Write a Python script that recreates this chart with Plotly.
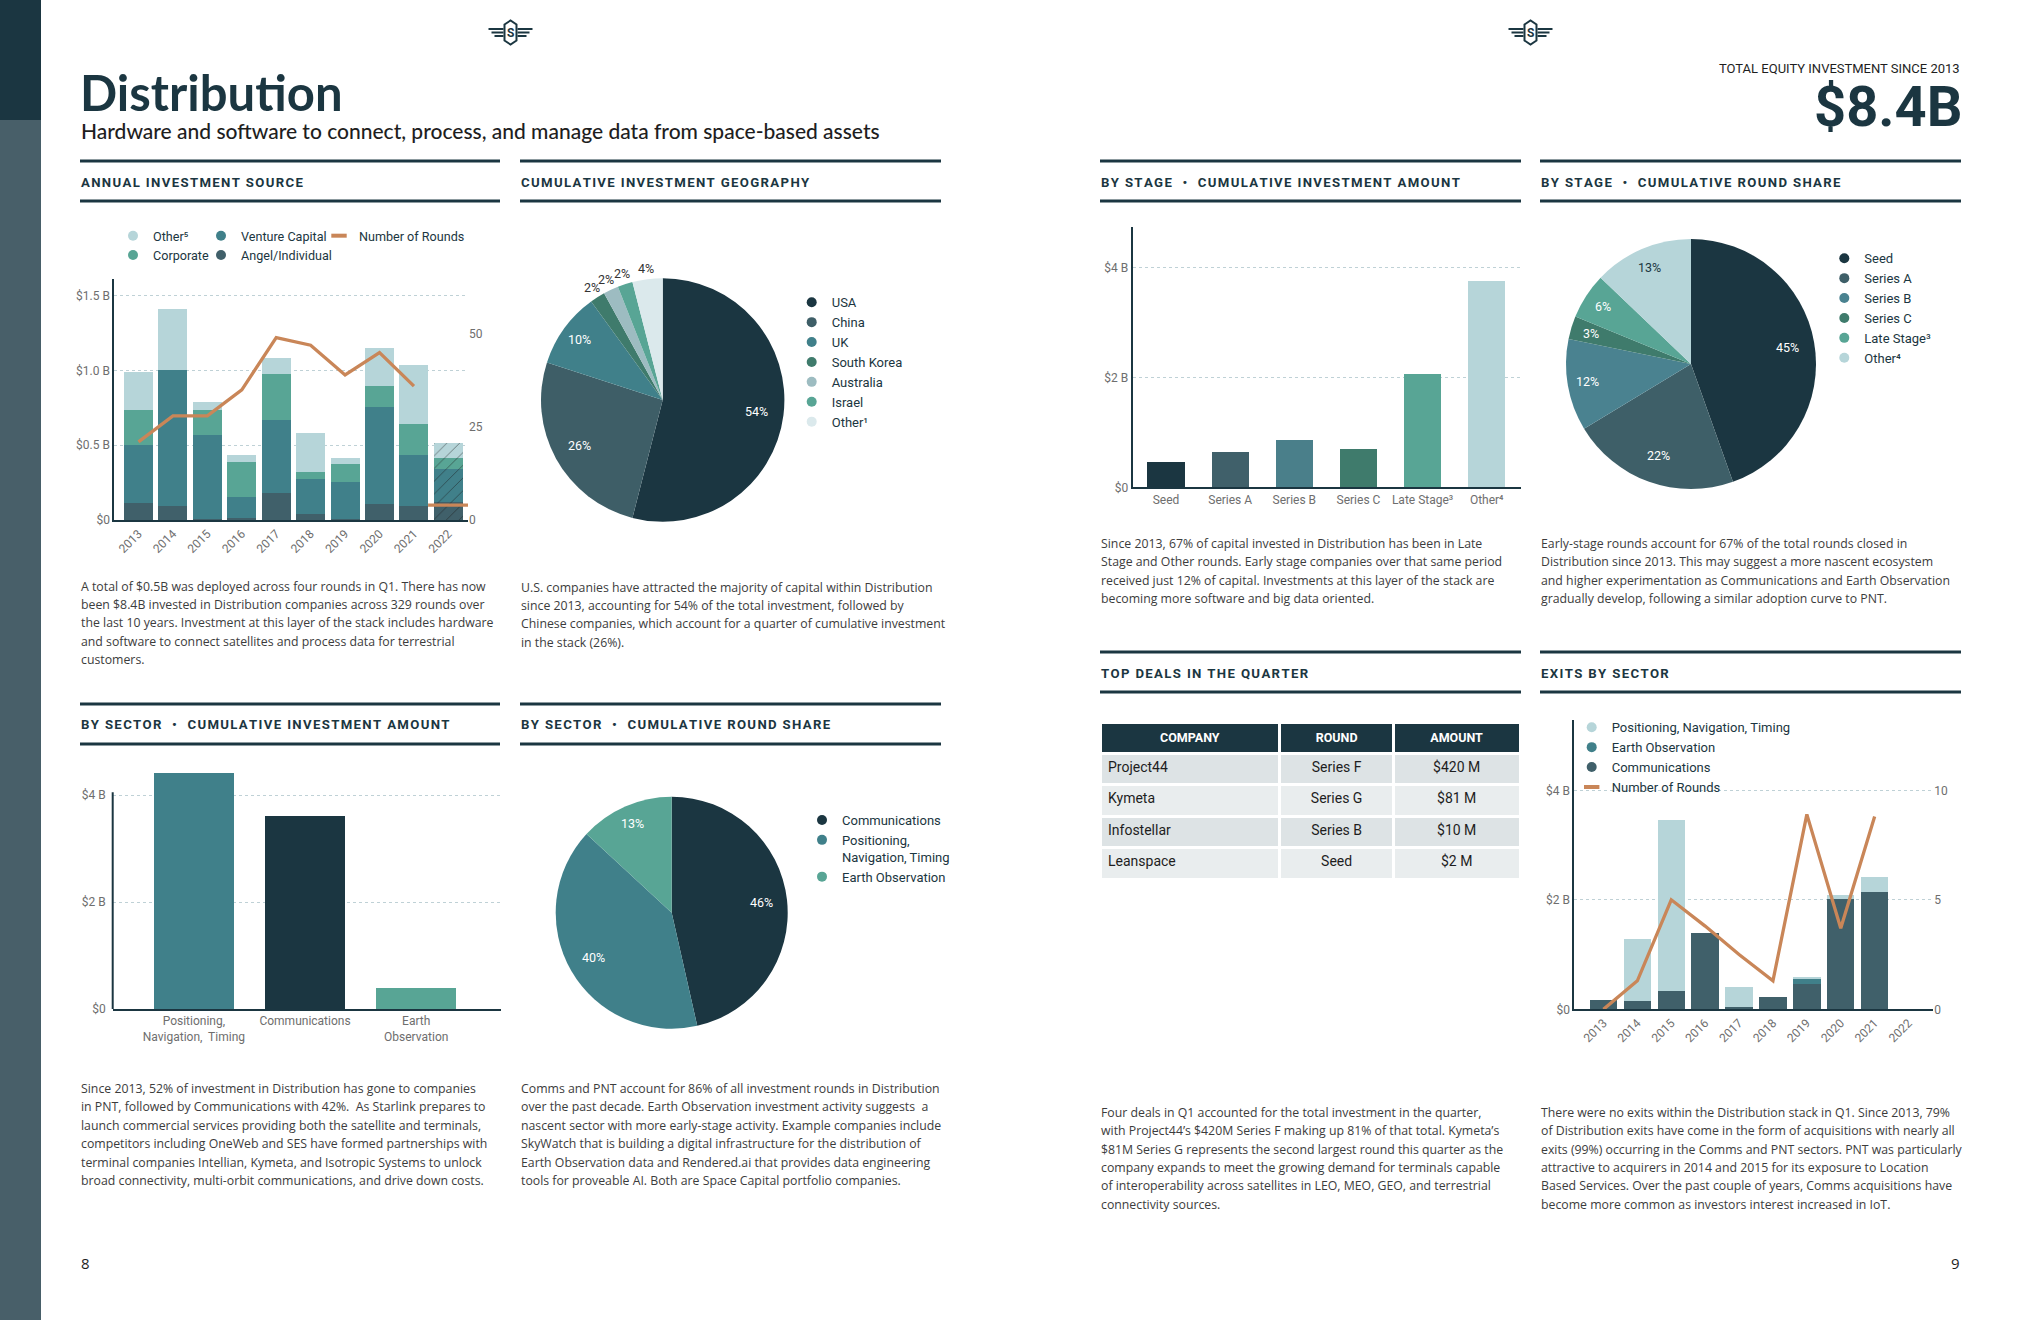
import math
import plotly.graph_objects as go

W, H = 2040, 1320
def fx(x): return x / W
def fy(y): return 1 - y / H

NAVY = "#1b3641"
SLATE = "#40606a"
TEAL = "#40808a"
GREEN = "#58a595"
LIGHT = "#b6d5d9"
ORANGE = "#c98658"
GRID = "#bfd1d6"
TICK = "#6e6e6e"
BODY_C = "#3c3c3c"
CHART_FONT = "Roboto, 'Liberation Sans', sans-serif"
BODY_FONT = "'Open Sans', 'DejaVu Sans', sans-serif"
TITLE_FONT = "Lato, Roboto, sans-serif"

# ---------------- data ----------------
years = ["2013", "2014", "2015", "2016", "2017", "2018", "2019", "2020", "2021", "2022"]
partial_year = "2022"
src_angel = [0.116, 0.094, 0.004, 0.016, 0.181, 0.042, 0.004, 0.107, 0.094, 0.123]
src_venture = [0.385, 0.909, 0.564, 0.140, 0.488, 0.234, 0.250, 0.649, 0.341, 0.220]
src_corporate = [0.234, 0.0, 0.167, 0.232, 0.307, 0.045, 0.120, 0.140, 0.207, 0.072]
src_other = [0.255, 0.408, 0.054, 0.047, 0.107, 0.261, 0.041, 0.254, 0.394, 0.100]
src_rounds = [21, 28, 28, 35, 49, 47, 39, 45, 36, 4]

countries = ["USA", "China", "UK", "South Korea", "Australia", "Israel", "Other¹"]
geo_share = [54, 26, 10, 2, 2, 2, 4]

sectors = ["Positioning,<br>Navigation,  Timing", "Communications", "Earth<br>Observation"]
sector_amount = [4.42, 3.61, 0.39]

sector_pie_labels = ["Communications", "Positioning,<br>Navigation, Timing", "Earth Observation"]
sector_round_share = [46, 40, 13]

stages = ["Seed", "Series A", "Series B", "Series C", "Late Stage³", "Other⁴"]
stage_amount = [0.455, 0.642, 0.86, 0.696, 2.06, 3.75]
stage_round_share = [45, 22, 12, 3, 6, 13]

deal_company = ["Project44", "Kymeta", "Infostellar", "Leanspace"]
deal_round = ["Series F", "Series G", "Series B", "Seed"]
deal_amount = ["$420 M", "$81 M", "$10 M", "$2 M"]

exit_comms = [0.17, 0.152, 0.335, 1.393, 0.043, 0.225, 0.462, 2.013, 2.141, 0]
exit_eo = [0, 0, 0, 0, 0, 0, 0.09, 0, 0, 0]
exit_pnt = [0, 1.13, 3.12, 0, 0.365, 0, 0.037, 0.067, 0.274, 0]
exit_rounds = [0, 1.3, 5.0, 3.8, 2.5, 1.3, 8.9, 3.7, 8.8]

# ---------------- figure ----------------
fig = go.Figure()
tickfont = dict(size=12, color=TICK, family=CHART_FONT)
shapes = []
annotations = []

def text(x, y, s, size, color=NAVY, family=CHART_FONT, xanchor="left", yanchor="middle", weight="normal"):
    annotations.append(dict(x=fx(x), y=fy(y), xref="paper", yref="paper", text=s, showarrow=False,
                            xanchor=xanchor, yanchor=yanchor, borderpad=0,
                            font=dict(size=size, color=color, family=family, weight=weight)))

# Chart 1: annual investment source
hatch = ["/" if y == partial_year else "" for y in years]
for name, vals, col in [("Angel/Individual", src_angel, SLATE), ("Venture Capital", src_venture, TEAL),
                        ("Corporate", src_corporate, GREEN), ("Other⁵", src_other, LIGHT)]:
    fig.add_trace(go.Bar(x=years, y=vals, name=name, width=0.84, xaxis="x", yaxis="y", showlegend=False,
                         marker=dict(color=col, line=dict(width=0),
                                     pattern=dict(shape=hatch, fgcolor="#1a1a1a", size=9, solidity=0.1)),
                         hoverinfo="skip"))
fig.add_trace(go.Scatter(x=years[:-1], y=src_rounds[:-1], mode="lines", xaxis="x", yaxis="y2",
                         line=dict(color=ORANGE, width=3.3), showlegend=False, hoverinfo="skip"))
fig.add_trace(go.Scatter(x=years[-1:], y=src_rounds[-1:], mode="markers", xaxis="x", yaxis="y2",
                         marker=dict(symbol="line-ew", size=29, line=dict(color=ORANGE, width=3.3)),
                         showlegend=False, hoverinfo="skip"))

# pies (geometry in page pixels) and their labels placed from the slice shares
def pie(labels, values, colors, cx, cy, r, label_colors, outside=None):
    fig.add_trace(go.Pie(labels=labels, values=values, sort=False, direction="clockwise", rotation=0,
                         domain=dict(x=[fx(cx - r), fx(cx + r)], y=[fy(cy + r), fy(cy - r)]),
                         marker=dict(colors=colors, line=dict(width=0)), textinfo="none",
                         showlegend=False, hoverinfo="skip"))
    total = sum(values)
    cum = 0
    for i, v in enumerate(values):
        share = v / total
        mid = 2 * math.pi * (cum + v / 2) / total
        cum += v
        out = outside[i] if outside else False
        f = 1.09 if out else (0.78 if share >= 0.2 else 0.84)
        text(cx + f * r * math.sin(mid), cy - f * r * math.cos(mid), f"{round(100 * share)}%", 12.5,
             "#333333" if out else label_colors[i], CHART_FONT, xanchor="center")

geo_colors = [NAVY, "#3e5e67", TEAL, "#3f7b6c", "#9dbcc1", GREEN, "#dbe9ec"]
pie(countries, geo_share, geo_colors, 662.7, 400, 121.7, ["white"] * 7,
    outside=[s < 5 for s in geo_share])

# Chart 3: by sector bar
fig.add_trace(go.Bar(x=sectors, y=sector_amount, width=0.72, xaxis="x3", yaxis="y3",
                     marker=dict(color=[TEAL, NAVY, GREEN], line=dict(width=0)),
                     showlegend=False, hoverinfo="skip"))

# Chart 4: sector round share pie
pie(sector_pie_labels, sector_round_share, [NAVY, TEAL, GREEN], 671.7, 912.7, 116, ["white"] * 3)

# Chart 5: by stage bar
stage_colors = [NAVY, SLATE, "#4a7f8a", "#3f7b6c", GREEN, LIGHT]
fig.add_trace(go.Bar(x=stages, y=stage_amount, width=0.58, xaxis="x4", yaxis="y4",
                     marker=dict(color=stage_colors, line=dict(width=0)),
                     showlegend=False, hoverinfo="skip"))

# Chart 6: stage round share pie
stage_pie_colors = [NAVY, "#3e5f68", "#4a8290", "#3f7b6c", GREEN, LIGHT]
pie(stages, stage_round_share, stage_pie_colors, 1691, 364, 125, ["white"] * 5 + [NAVY])

# Table
row_fill = ["#dde3e5" if i % 2 == 0 else "#e9edee" for i in range(len(deal_company))]
fig.add_trace(go.Table(domain=dict(x=[fx(1100), fx(1520)], y=[fy(882), fy(722.3)]),
                       columnwidth=[179, 113, 126],
                       header=dict(values=["<b>COMPANY</b>", "<b>ROUND</b>", "<b>AMOUNT</b>"],
                                   fill_color=NAVY, align="center", height=29.5,
                                   font=dict(color="white", size=12.5, family=CHART_FONT),
                                   line=dict(color="white", width=3)),
                       cells=dict(values=[deal_company, deal_round, deal_amount],
                                  fill_color=[row_fill] * 3, align=["left", "center", "center"],
                                  height=31.5, font=dict(color="#1e1e1e", size=14, family=CHART_FONT),
                                  line=dict(color="white", width=3))))

# Chart 7: exits by sector
for name, vals, col in [("Communications", exit_comms, SLATE), ("Earth Observation", exit_eo, TEAL),
                        ("Positioning, Navigation, Timing", exit_pnt, LIGHT)]:
    fig.add_trace(go.Bar(x=years, y=vals, name=name, width=0.81, xaxis="x5", yaxis="y5",
                         marker=dict(color=col, line=dict(width=0)), showlegend=False, hoverinfo="skip"))
fig.add_trace(go.Scatter(x=years[:len(exit_rounds)], y=exit_rounds, mode="lines", xaxis="x5", yaxis="y6",
                         line=dict(color=ORANGE, width=3.3), showlegend=False, hoverinfo="skip"))

# ---------------- legend entries ----------------
def dot(name, color, leg):
    fig.add_trace(go.Scatter(x=[None], y=[None], mode="markers", name=name, legend=leg, xaxis="x", yaxis="y",
                             marker=dict(size=10, color=color), showlegend=True, hoverinfo="skip"))

def dash(name, leg):
    fig.add_trace(go.Scatter(x=[None], y=[None], mode="markers", name=name, legend=leg, xaxis="x", yaxis="y",
                             marker=dict(symbol="line-ew", size=11, line=dict(color=ORANGE, width=4)),
                             showlegend=True, hoverinfo="skip"))

dot("Other⁵", LIGHT, "legend"); dot("Corporate", GREEN, "legend")
dot("Venture Capital", TEAL, "legend2"); dot("Angel/Individual", SLATE, "legend2")
dash("Number of Rounds", "legend3")
for c, col in zip(countries, geo_colors):
    dot(c, col, "legend4")
for c, col in zip(sector_pie_labels, [NAVY, TEAL, GREEN]):
    dot(c, col, "legend5")
for c, col in zip(stages, stage_pie_colors):
    dot(c, col, "legend6")
dot("Positioning, Navigation, Timing", LIGHT, "legend7")
dot("Earth Observation", TEAL, "legend7")
dot("Communications", SLATE, "legend7")
dash("Number of Rounds", "legend7")

def leg(xm, yc, size=13):
    return dict(x=fx(xm - 24), y=fy(yc - 15), xanchor="left", yanchor="top", orientation="v",
                bgcolor="rgba(0,0,0,0)", borderwidth=0, tracegroupgap=0, itemclick=False,
                itemdoubleclick=False, valign="top", traceorder="normal",
                font=dict(size=size, color=NAVY, family=CHART_FONT))

# ---------------- axes ----------------
def yax(domain, rng, vals, texts, grid=True, line=True, standoff=None):
    d = dict(domain=domain, range=rng, tickvals=vals, ticktext=texts, showgrid=grid, gridcolor=GRID,
             griddash="3px,3px", gridwidth=1, showline=line, linecolor=NAVY, linewidth=2, zeroline=False,
             ticks="", tickfont=tickfont, fixedrange=True)
    if standoff is not None:
        d["ticklabelstandoff"] = standoff
    return d

def xax(domain, rng, anchor, angle=0):
    return dict(domain=domain, range=rng, anchor=anchor, type="category", showline=True, linecolor=NAVY,
                linewidth=2, showgrid=False, zeroline=False, ticks="", tickangle=angle, tickfont=tickfont,
                fixedrange=True)

layout_axes = dict(
    xaxis=xax([fx(114.3), fx(468)], [-0.703, 9.57], "y", -45),
    yaxis=dict(yax([fy(520), fy(279.3)], [0, 1.609], [0, 0.5, 1.0, 1.5], ["$0", "$0.5 B", "$1.0 B", "$1.5 B"]),
               anchor="x"),
    yaxis2=dict(overlaying="y", side="right", anchor="x", range=[0, 64.7], tickvals=[0, 25, 50],
                showgrid=False, showline=False, zeroline=False, ticks="", tickfont=tickfont, fixedrange=True),
    xaxis3=xax([fx(112.7), fx(500.7)], [-0.73, 2.76], "y3"),
    yaxis3=dict(yax([fy(1009), fy(768.25)], [0, 4.5], [0, 2, 4], ["$0", "$2 B", "$4 B"], line=False,
                    standoff=6), anchor="x3"),
    xaxis4=xax([fx(1132.7), fx(1520.7)], [-0.52, 5.53], "y4"),
    yaxis4=dict(yax([fy(487.3), fy(227.3)], [0, 4.73], [0, 2, 4], ["$0", "$2 B", "$4 B"]), anchor="x4"),
    xaxis5=xax([fx(1574.3), fx(1933.3)], [-0.86, 9.73], "y5", -45),
    yaxis5=dict(yax([fy(1009.3), fy(720)], [0, 5.284], [0, 2, 4], ["$0", "$2 B", "$4 B"]), anchor="x5"),
    yaxis6=dict(overlaying="y5", side="right", anchor="x5", range=[0, 13.21], tickvals=[0, 5, 10],
                showgrid=False, showline=False, zeroline=False, ticks="", tickfont=tickfont, fixedrange=True),
)

# ---------------- shapes & text ----------------
def rect(x0, y0, x1, y1, color):
    shapes.append(dict(type="rect", xref="paper", yref="paper", x0=fx(x0), x1=fx(x1), y0=fy(y1), y1=fy(y0),
                       fillcolor=color, line=dict(width=0), layer="below"))

def hline(x0, x1, y, width=3, color=NAVY):
    shapes.append(dict(type="line", xref="paper", yref="paper", x0=fx(x0), x1=fx(x1), y0=fy(y), y1=fy(y),
                       line=dict(color=color, width=width)))

def spaced(s):
    return "\u200a".join(s)

def header(x0, x1, ytop, label):
    hline(x0, x1, ytop)
    hline(x0, x1, ytop + 40)
    text(x0, ytop + 21, spaced(label), 13.2, NAVY, CHART_FONT, weight="bold")

def para(x, y0, lines, step=18.4):
    for i, ln in enumerate(lines):
        text(x, y0 + i * step, ln, 12.3, BODY_C, BODY_FONT)

# side bar
rect(0, 0, 41, 120, NAVY)
rect(0, 120, 41, 1320, "#485f69")

# logos
def logo(cx, cy):
    for dy, L in [(-3.5, 22), (0, 19), (3.5, 16)]:
        for sgn in (-1, 1):
            shapes.append(dict(type="line", xref="paper", yref="paper",
                               x0=fx(cx + sgn * 7), x1=fx(cx + sgn * L), y0=fy(cy + dy), y1=fy(cy + dy),
                               line=dict(color=NAVY, width=2)))
    pts = [(cx - 6, cy - 8), (cx, cy - 12), (cx + 6, cy - 8), (cx + 6, cy + 8), (cx, cy + 12), (cx - 6, cy + 8)]
    path = "M " + " L ".join(f"{fx(a):.6f},{fy(b):.6f}" for a, b in pts) + " Z"
    shapes.append(dict(type="path", xref="paper", yref="paper", path=path, fillcolor="white",
                       line=dict(color=NAVY, width=2)))
    text(cx, cy, "S", 12, NAVY, CHART_FONT, xanchor="center", weight="bold")

logo(510.5, 32.5)
logo(1530.5, 32.5)

# titles
text(79, 92, "Distribution", 49, NAVY, TITLE_FONT, weight="bold")
text(80, 130, "Hardware and software to connect, process, and manage data from space-based assets", 21,
     "#1e1e1e", TITLE_FONT, weight=500)
text(1961, 68, "TOTAL EQUITY INVESTMENT SINCE 2013", 13, "#1e1e1e",
     "'Liberation Sans Narrow', 'Roboto', sans-serif", xanchor="right")
text(1963, 107, "$8.4B", 56, NAVY, "'Liberation Sans Narrow', Roboto, sans-serif", xanchor="right",
     weight="bold")

# section headers
header(80, 500, 161, "ANNUAL INVESTMENT SOURCE")
header(520, 941, 161, "CUMULATIVE INVESTMENT GEOGRAPHY")
header(1100, 1521, 161, "BY STAGE  •  CUMULATIVE INVESTMENT AMOUNT")
header(1540, 1961, 161, "BY STAGE  •  CUMULATIVE ROUND SHARE")
header(80, 500, 704, "BY SECTOR  •  CUMULATIVE INVESTMENT AMOUNT")
header(520, 941, 704, "BY SECTOR  •  CUMULATIVE ROUND SHARE")
header(1100, 1521, 652, "TOP DEALS IN THE QUARTER")
header(1540, 1961, 652, "EXITS BY SECTOR")

# y-axis line for the sector bar chart (stops at top tick)
shapes.append(dict(type="line", xref="x3 domain", yref="y3", x0=0, x1=0, y0=0, y1=4.05,
                   line=dict(color=NAVY, width=2)))

# paragraphs
para(80, 586, ["A total of $0.5B was deployed across four rounds in Q1. There has now",
               "been $8.4B invested in Distribution companies across 329 rounds over",
               "the last 10 years. Investment at this layer of the stack includes hardware",
               "and software to connect satellites and process data for terrestrial",
               "customers."])
para(520, 587, ["U.S. companies have attracted the majority of capital within Distribution",
                "since 2013, accounting for 54% of the total investment, followed by",
                "Chinese companies, which account for a quarter of cumulative investment",
                "in the stack (26%)."])
para(1100, 543.5, ["Since 2013, 67% of capital invested in Distribution has been in Late",
                   "Stage and Other rounds. Early stage companies over that same period",
                   "received just 12% of capital. Investments at this layer of the stack are",
                   "becoming more software and big data oriented."])
para(1540, 543.5, ["Early-stage rounds account for 67% of the total rounds closed in",
                   "Distribution since 2013. This may suggest a more nascent ecosystem",
                   "and higher experimentation as Communications and Earth Observation",
                   "gradually develop, following a similar adoption curve to PNT."])
para(80, 1088.5, ["Since 2013, 52% of investment in Distribution has gone to companies",
                  "in PNT, followed by Communications with 42%.  As Starlink prepares to",
                  "launch commercial services providing both the satellite and terminals,",
                  "competitors including OneWeb and SES have formed partnerships with",
                  "terminal companies Intellian, Kymeta, and Isotropic Systems to unlock",
                  "broad connectivity, multi-orbit communications, and drive down costs."])
para(520, 1088.5, ["Comms and PNT account for 86% of all investment rounds in Distribution",
                   "over the past decade. Earth Observation investment activity suggests  a",
                   "nascent sector with more early-stage activity. Example companies include",
                   "SkyWatch that is building a digital infrastructure for the distribution of",
                   "Earth Observation data and Rendered.ai that provides data engineering",
                   "tools for proveable AI. Both are Space Capital portfolio companies."])
para(1100, 1112.3, ["Four deals in Q1 accounted for the total investment in the quarter,",
                    "with Project44’s $420M Series F making up 81% of that total. Kymeta’s",
                    "$81M Series G represents the second largest round this quarter as the",
                    "company expands to meet the growing demand for terminals capable",
                    "of interoperability across satellites in LEO, MEO, GEO, and terrestrial",
                    "connectivity sources."])
para(1540, 1112.3, ["There were no exits within the Distribution stack in Q1. Since 2013, 79%",
                    "of Distribution exits have come in the form of acquisitions with nearly all",
                    "exits (99%) occurring in the Comms and PNT sectors. PNT was particularly",
                    "attractive to acquirers in 2014 and 2015 for its exposure to Location",
                    "Based Services. Over the past couple of years, Comms acquisitions have",
                    "become more common as investors interest increased in IoT."])

# page numbers
text(80, 1263, "8", 15, "#1e1e1e", BODY_FONT)
text(1961, 1263, "9", 15, "#1e1e1e", BODY_FONT, xanchor="right")

fig.update_layout(
    width=W, height=H, margin=dict(l=0, r=0, t=0, b=0, pad=0, autoexpand=False),
    paper_bgcolor="white", plot_bgcolor="rgba(0,0,0,0)", barmode="stack", hovermode=False,
    showlegend=True, shapes=shapes, annotations=annotations,
    legend=leg(137, 236, 12.6), legend2=leg(225, 236, 12.6), legend3=leg(343, 236, 12.6),
    legend4=leg(815.7, 302.3), legend5=leg(826, 820), legend6=leg(1848.3, 258.3),
    legend7=leg(1595.7, 727.3),
    font=dict(family=CHART_FONT),
    **layout_axes,
)

fig.write_html("out.html", config={"displayModeBar": False, "staticPlot": True},
               post_script="document.body.style.margin='0px';document.body.style.padding='0px';")
